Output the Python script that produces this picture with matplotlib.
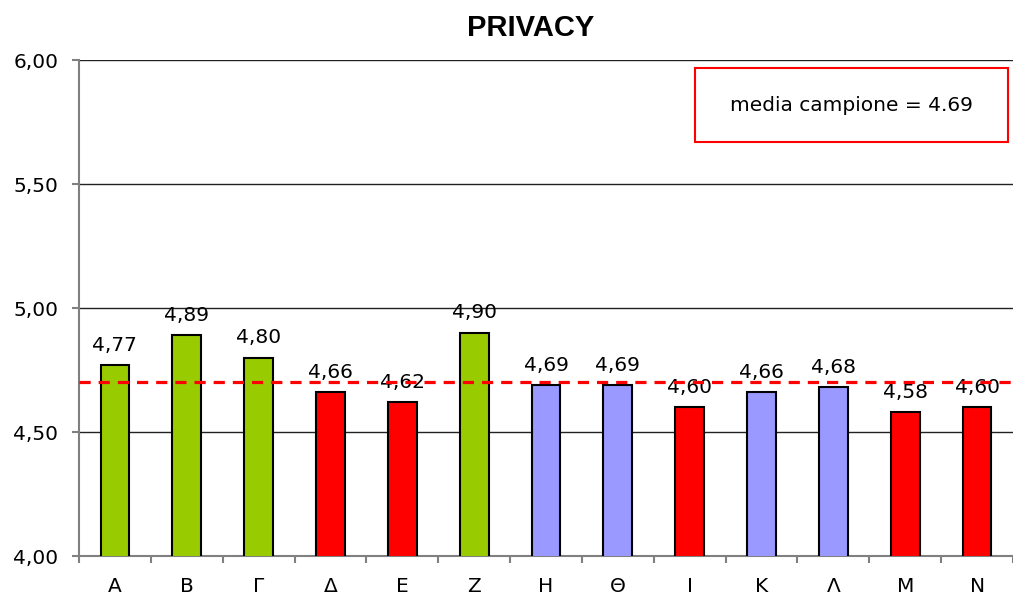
import numpy as np
import matplotlib.pyplot as plt
from matplotlib.patches import Rectangle

categories = ['Α', 'Β', 'Γ', 'Δ', 'Ε', 'Ζ', 'Η', 'Θ', 'Ι', 'Κ', 'Λ', 'Μ', 'Ν']
values = [4.77, 4.89, 4.80, 4.66, 4.62, 4.90, 4.69, 4.69, 4.60, 4.66, 4.68, 4.58, 4.60]
groups = ['g', 'g', 'g', 'r', 'r', 'g', 'b', 'b', 'r', 'b', 'b', 'r', 'r']
mean_line = 4.70
mean_label = 'media campione = 4.69'

palette = {'g': '#99CC00', 'r': '#FF0000', 'b': '#9999FF'}
colors = [palette[g] for g in groups]

plt.rcParams['font.family'] = ['DejaVu Sans']

fig = plt.figure(figsize=(10.13, 5.96), dpi=100)
ax = fig.add_axes([0.078, 0.0671, 0.922, 0.832])

x = np.arange(len(categories))
ax.bar(x, values, width=0.4, color=colors, edgecolor='black', linewidth=1.5, zorder=3)

for xi, v in zip(x, values):
    ax.text(xi, v + 0.058, f'{v:.2f}'.replace('.', ','), ha='center', va='baseline',
            fontsize=14.5, zorder=4)

ax.axhline(mean_line, color='#FF0000', linestyle=(0, (3.5, 2.5)), linewidth=2.3, zorder=5)

ax.set_ylim(4.0, 6.0)
ax.set_xlim(-0.5, len(categories) - 0.5)
ax.set_yticks([4.0, 4.5, 5.0, 5.5, 6.0])
ax.set_yticklabels(['4,00', '4,50', '5,00', '5,50', '6,00'], fontsize=14.5)
ax.yaxis.grid(True, color='#222222', linewidth=1.0, zorder=0)

ax.set_xticks(x)
ax.set_xticklabels(categories, fontsize=14.5)
ax.tick_params(axis='x', which='major', length=0, pad=15)
ax.set_xticks(np.arange(-0.5, len(categories), 1.0), minor=True)
ax.tick_params(axis='x', which='minor', length=5, color='#808080', width=1.5)
ax.tick_params(axis='y', length=5, color='#808080', width=1.5, pad=10)

for s in ['top', 'right']:
    ax.spines[s].set_visible(False)
for s in ['left', 'bottom']:
    ax.spines[s].set_color('#808080')
    ax.spines[s].set_linewidth(1.5)

# box with the sample mean
box = Rectangle((0.6595, 0.835), 0.335, 0.149, transform=ax.transAxes,
                facecolor='white', edgecolor='#FF0000', linewidth=1.5, zorder=6)
ax.add_patch(box)
ax.text(0.827, 0.909, mean_label, transform=ax.transAxes, ha='center', va='center',
        fontsize=14.5, zorder=7)

fig.text(0.524, 0.953, 'PRIVACY', ha='center', va='center', fontsize=21,
         fontweight='bold', family=['Liberation Sans', 'DejaVu Sans'])

fig.savefig('out.png', dpi=100)
